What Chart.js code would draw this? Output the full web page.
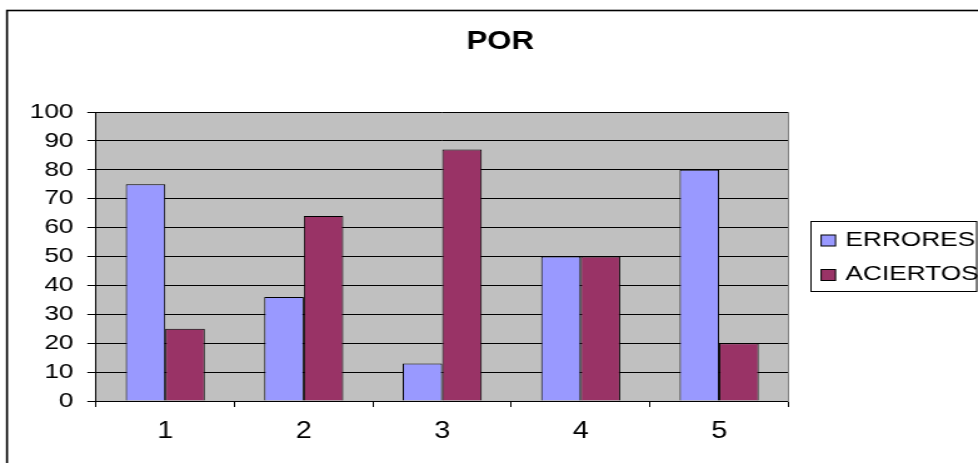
<!DOCTYPE html>
<html>
<head>
<meta charset="utf-8">
<script src="https://cdn.jsdelivr.net/npm/chart.js@4/dist/chart.umd.min.js"></script>
<style>
  html, body { margin: 0; padding: 0; background: #fff; overflow: hidden; }
  #wrap { width: 978px; height: 463px; overflow: hidden; }
  /* the chart is laid out on a narrower canvas and widened, giving the broad lettering */
  #c { display: block; transform-origin: 0 0; transform: scaleX(1.2506); }
</style>
</head>
<body>
<div id="wrap"><canvas id="c" width="782" height="463"></canvas></div>
<script>
// Data
const categories = ['1', '2', '3', '4', '5'];
const errores = [75, 36, 13, 50, 80];
const aciertos = [25, 64, 87, 50, 20];
const seriesNames = ['ERRORES', 'ACIERTOS'];
const yMin = 0;
const yMax = 100;
const yStep = 10;
const chartTitle = 'POR';

const FONT = "'Liberation Sans', Arial, sans-serif";
Chart.defaults.font.family = FONT;
Chart.defaults.color = '#000';

// Background, grey plot area, outer frame and the boxed legend on the right
const framePlugin = {
  id: 'frame',
  beforeDraw(chart) {
    const { ctx, chartArea: a } = chart;
    ctx.save();
    ctx.fillStyle = '#fff';
    ctx.fillRect(0, 0, chart.width, chart.height);
    ctx.fillStyle = '#C0C0C0';
    ctx.fillRect(a.left, a.top, a.right - a.left, a.bottom - a.top);
    ctx.strokeStyle = '#000';
    ctx.lineWidth = 1.6;
    ctx.strokeRect(5.6, 10.5, chart.width + 40, chart.height + 40);
    ctx.restore();
  },
  afterDraw(chart) {
    const { ctx } = chart;
    const box = { x: 648, y: 221, w: 133.5, h: 71 };
    ctx.save();
    ctx.fillStyle = '#fff';
    ctx.fillRect(box.x, box.y, box.w, box.h);
    ctx.strokeStyle = '#000';
    ctx.lineWidth = 1;
    ctx.strokeRect(box.x + 0.5, box.y + 0.5, box.w - 1, box.h - 1);
    ctx.font = '21px ' + FONT;
    ctx.textBaseline = 'middle';
    ctx.textAlign = 'left';
    chart.data.datasets.forEach((ds, i) => {
      const cy = 240 + i * 34.5;
      ctx.fillStyle = ds.backgroundColor;
      ctx.fillRect(656.6, cy - 5, 11.5, 11);
      ctx.strokeStyle = '#000';
      ctx.lineWidth = 1;
      ctx.strokeRect(656.6, cy - 5, 11.5, 11);
      ctx.fillStyle = '#000';
      ctx.fillText(ds.label, 676, cy);
    });
    ctx.restore();
  }
};

new Chart(document.getElementById('c'), {
  type: 'bar',
  data: {
    labels: categories,
    datasets: [
      {
        label: seriesNames[0],
        data: errores,
        backgroundColor: '#9999FF',
        borderColor: '#000',
        borderWidth: 1,
        categoryPercentage: 0.571,
        barPercentage: 1.0
      },
      {
        label: seriesNames[1],
        data: aciertos,
        backgroundColor: '#993366',
        borderColor: '#000',
        borderWidth: 1,
        categoryPercentage: 0.571,
        barPercentage: 1.0
      }
    ]
  },
  options: {
    responsive: false,
    animation: false,
    devicePixelRatio: 1,
    layout: { padding: { left: 18, right: 0, top: 0, bottom: 0 } },
    plugins: {
      legend: { display: false },
      tooltip: { enabled: false },
      title: {
        display: true,
        text: chartTitle,
        color: '#000',
        font: { family: FONT, size: 25, weight: 'bold' },
        padding: { top: 27, bottom: 55 }
      }
    },
    scales: {
      x: {
        offset: true,
        grid: { offset: true, drawOnChartArea: false, drawTicks: true, tickLength: 6, color: '#000', lineWidth: 1 },
        border: { display: true, color: '#000', width: 1 },
        ticks: { color: '#000', font: { size: 23 }, padding: 11, maxRotation: 0 },
        afterFit(scale) { scale.height = 62; }
      },
      y: {
        min: yMin,
        max: yMax,
        ticks: { stepSize: yStep, color: '#000', font: { size: 21 }, padding: 11 },
        grid: { color: '#000', lineWidth: 1, drawTicks: true, tickLength: 7 },
        border: { display: true, color: '#000', width: 1 },
        afterFit(scale) { scale.width = 58.8; }
      },
      yRight: {
        type: 'linear',
        position: 'right',
        display: true,
        grid: { display: false, drawTicks: false },
        ticks: { display: false },
        border: { display: true, color: '#808080', width: 1 },
        afterFit(scale) { scale.width = 151.6; }
      }
    }
  },
  plugins: [framePlugin]
});
</script>
</body>
</html>
